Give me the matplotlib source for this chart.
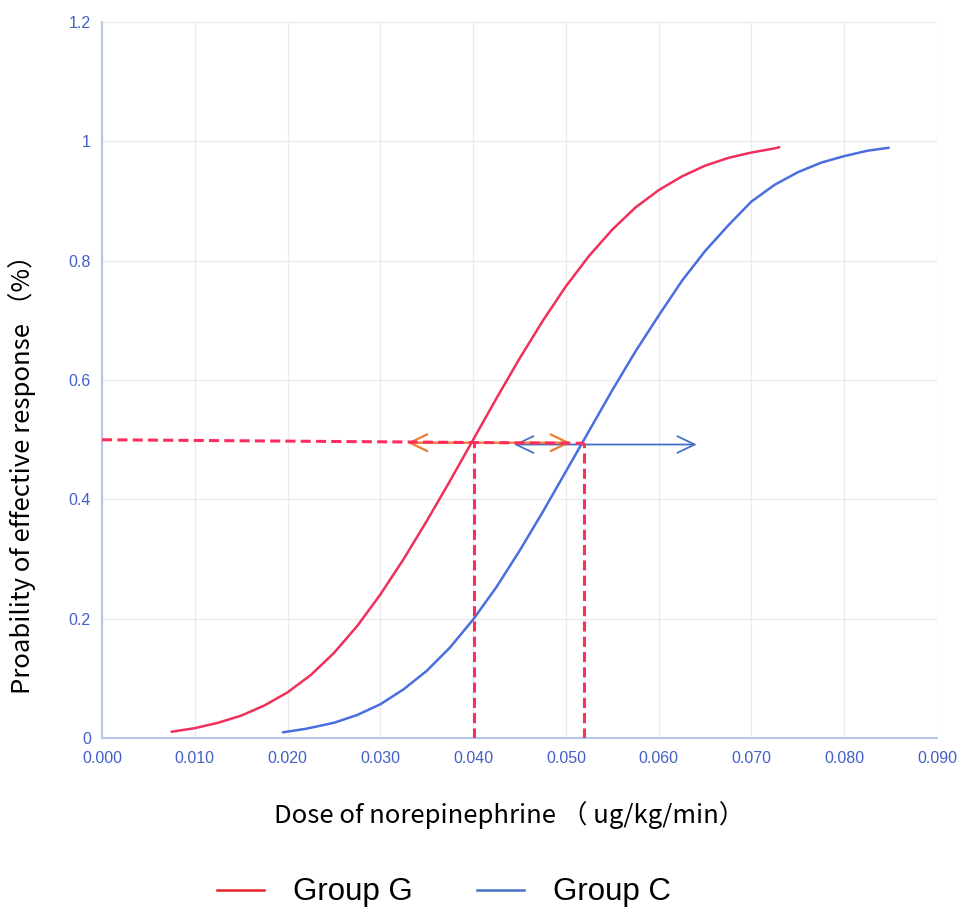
import matplotlib.pyplot as plt
from matplotlib.lines import Line2D

# Group G (red) probit curve
dose_g = [0.0075, 0.010, 0.0125, 0.015, 0.0175, 0.020, 0.0225, 0.025, 0.0275, 0.030,
          0.0325, 0.035, 0.0375, 0.040, 0.0425, 0.045, 0.0475, 0.050, 0.0525, 0.055,
          0.0575, 0.060, 0.0625, 0.065, 0.0675, 0.070, 0.0725, 0.073]
prob_g = [0.011, 0.017, 0.026, 0.038, 0.055, 0.077, 0.106, 0.143, 0.188, 0.241,
          0.300, 0.364, 0.431, 0.500, 0.569, 0.636, 0.699, 0.757, 0.808, 0.852,
          0.889, 0.918, 0.941, 0.959, 0.972, 0.981, 0.988, 0.990]

# Group C (blue) probit curve
dose_c = [0.0195, 0.022, 0.025, 0.0275, 0.030, 0.0325, 0.035, 0.0375, 0.040, 0.0425,
          0.045, 0.0475, 0.050, 0.0525, 0.055, 0.0575, 0.060, 0.0625, 0.065, 0.0675,
          0.070, 0.0725, 0.075, 0.0775, 0.080, 0.0825, 0.0848]
prob_c = [0.010, 0.016, 0.026, 0.039, 0.057, 0.082, 0.113, 0.152, 0.199, 0.253,
          0.314, 0.379, 0.447, 0.515, 0.583, 0.648, 0.708, 0.766, 0.816, 0.859,
          0.899, 0.927, 0.948, 0.964, 0.975, 0.984, 0.989]

ed50_g = 0.0401
ed50_c = 0.0520
ci_g = (0.0329, 0.0505)
ci_c = (0.0444, 0.0641)

x_ticks = [0.00, 0.01, 0.02, 0.03, 0.04, 0.05, 0.06, 0.07, 0.08, 0.09]
y_ticks = [0, 0.2, 0.4, 0.6, 0.8, 1.0, 1.2]
y_tick_labels = ['0', '0.2', '0.4', '0.6', '0.8', '1', '1.2']

red = '#F0305A'
blue = '#4A6EE0'
dash_red = '#FF2D5E'
orange = '#ED7D31'
arrow_blue = '#4472C4'
tick_col = '#4260C6'

cjk = ['Noto Sans CJK SC', 'DejaVu Sans']
arial = ['Liberation Sans', 'DejaVu Sans']
plt.rcParams['font.family'] = arial

fig = plt.figure(figsize=(9.63, 9.07), dpi=100)
ax = fig.add_axes([0.106, 0.186, 0.867, 0.790])

ax.plot(dose_g, prob_g, color=red, lw=1.8, zorder=3, solid_capstyle='round')
ax.plot(dose_c, prob_c, color=blue, lw=1.8, zorder=3, solid_capstyle='round')

# confidence interval arrows (under the dashed ED50 line)
head = '<->,head_length=1.25,head_width=0.6'
ax.annotate('', xy=(ci_c[0], 0.492), xytext=(ci_c[1], 0.492),
            arrowprops=dict(arrowstyle=head, color=arrow_blue, lw=1.3,
                            shrinkA=0, shrinkB=0), zorder=4)
ax.annotate('', xy=(ci_g[0], 0.495), xytext=(ci_g[1], 0.495),
            arrowprops=dict(arrowstyle=head, color=orange, lw=1.6,
                            shrinkA=0, shrinkB=0), zorder=4)

# ED50 guide lines
dash = (0, (3.3, 1.7))
ax.plot([0, ed50_c], [0.500, 0.494], color=dash_red, lw=2.2, ls=dash, zorder=5)
ax.plot([ed50_g, ed50_g], [0, 0.496], color=dash_red, lw=2.2, ls=dash, zorder=5)
ax.plot([ed50_c, ed50_c], [0, 0.494], color=dash_red, lw=2.2, ls=dash, zorder=5)

ax.set_xlim(0, 0.09)
ax.set_ylim(0, 1.2)
ax.set_xticks(x_ticks)
ax.set_xticklabels([f'{v:.3f}' for v in x_ticks])
ax.set_yticks(y_ticks)
ax.set_yticklabels(y_tick_labels)
ax.tick_params(length=0, labelcolor=tick_col, labelsize=11.5)
ax.tick_params(axis='x', pad=9)
ax.tick_params(axis='y', pad=8)
ax.grid(True, color='#EBEBEB', lw=1)
ax.set_axisbelow(True)
for s in ['top', 'right']:
    ax.spines[s].set_visible(False)
for s in ['left', 'bottom']:
    ax.spines[s].set_color('#B8C4EC')
    ax.spines[s].set_linewidth(1.5)

fig.text(0.529, 0.101, 'Dose of norepinephrine （ ug/kg/min）', fontsize=18.5,
         family=cjk, ha='center', va='center')
fig.text(0.023, 0.484, 'Proability of effective response （%）', fontsize=18.5,
         family=cjk, ha='center', va='center', rotation=90)

handles = [Line2D([], [], color='#E8222A', lw=1.8),
           Line2D([], [], color='#4472C4', lw=1.8)]
fig.legend(handles, ['Group G', 'Group C'], loc='center', bbox_to_anchor=(0.461, 0.016),
           ncol=2, frameon=False, prop={'family': arial, 'size': 22.5},
           handlelength=1.5, handletextpad=0.92, columnspacing=2.06)

fig.savefig('out.png', dpi=100)
